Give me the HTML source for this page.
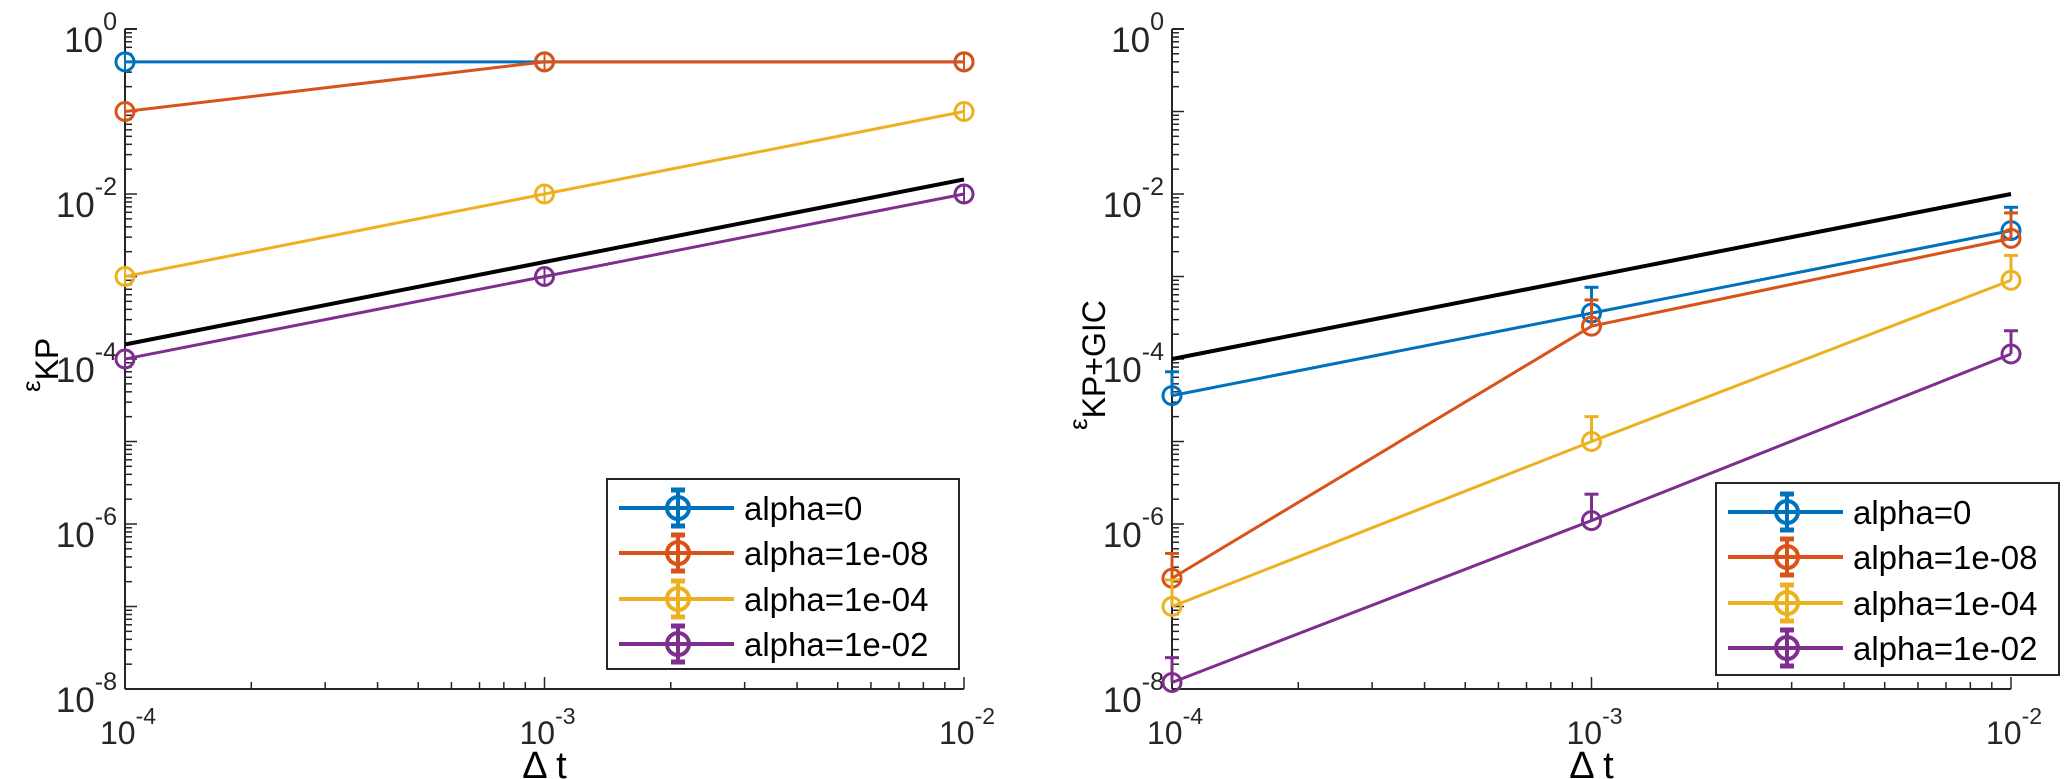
<!DOCTYPE html>
<html><head><meta charset="utf-8">
<style>
html,body{margin:0;padding:0;background:#fff;}
svg{display:block;font-family:"Liberation Sans",Arial,sans-serif;}
</style></head>
<body>
<svg id="fig" width="2067" height="779" viewBox="0 0 2067 779" xmlns="http://www.w3.org/2000/svg"></svg>
<script>
const xValues = [1e-4, 1e-3, 1e-2];
const seriesNames = ["alpha=0","alpha=1e-08","alpha=1e-04","alpha=1e-02"];
const colors = ["#0072BD","#D95319","#EDB120","#7E2F8E"];
// left panel (epsilon KP)
const leftBlue = [0.4, 0.4, 0.4];
const leftRed = [0.1, 0.4, 0.4];
const leftYellow = [1e-3, 1e-2, 0.1];
const leftPurple = [1e-4, 1e-3, 1e-2];
const leftRef = [1.5e-4, 1.5e-2];
// right panel (epsilon KP+GIC)
const rightBlue = [3.6e-5, 3.6e-4, 3.6e-3];
const rightRed = [2.2e-7, 2.5e-4, 2.9e-3];
const rightYellow = [1e-7, 1e-5, 9e-4];
const rightPurple = [1.2e-8, 1.1e-6, 1.15e-4];
const rightBlueUp = [7e-5, 7.4e-4, 6.9e-3];
const rightRedUp = [4.4e-7, 5.2e-4, 5.9e-3];
const rightYellowUp = [2.1e-7, 2e-5, 1.8e-3];
const rightPurpleUp = [2.4e-8, 2.3e-6, 2.2e-4];
const rightRef = [1e-4, 1e-2];
const refX = [1e-4, 1e-2];
const yTickExp = [0, -2, -4, -6, -8];
const xTickExp = [-4, -3, -2];

const NS = "http://www.w3.org/2000/svg";
const svg = document.getElementById("fig");
function mk(tag, attrs, parent){
  const e = document.createElementNS(NS, tag);
  for (const k in attrs) e.setAttribute(k, attrs[k]);
  (parent||svg).appendChild(e);
  return e;
}
const Y0 = 29, YB = 689, DEC = (YB - Y0) / 8;
function yScale(v){ return Y0 - Math.log10(v) * DEC; }

function panel(px, pname, ylab, series, ups, ref){
  const X0 = px, XD = 419.5;
  const xScale = v => X0 + (Math.log10(v) + 4) * XD;
  const g = mk("g", {});
  
  
  const ax = mk("g", {stroke:"#262626","stroke-width":2}, g);
  
  
  mk("line", {x1:X0, y1:Y0, x2:X0, y2:YB}, ax);
  mk("line", {x1:X0, y1:YB, x2:xScale(1e-2), y2:YB}, ax);
  for (let d = 0; d < 8; d++) {
    for (let m = 1; m < 10; m++) {
      const v = Math.pow(10, -8 + d) * m;
      const y = yScale(v);
      mk("line", {x1:X0, y1:y, x2:X0 + (m===1?12:7), y2:y, "stroke-width":1.5}, ax);
    }
  }
  mk("line", {x1:X0, y1:Y0, x2:X0+12, y2:Y0}, ax);
  for (let d = 0; d < 2; d++) {
    for (let m = 1; m < 10; m++) {
      const x = xScale(Math.pow(10, -4 + d) * m);
      mk("line", {x1:x, y1:YB, x2:x, y2:YB - (m===1?12:7), "stroke-width":1.5}, ax);
    }
  }
  const xe = xScale(1e-2);
  mk("line", {x1:xe, y1:YB, x2:xe, y2:YB-12, "stroke-width":1.5}, ax);
  yTickExp.forEach(e => {
    const y = yScale(Math.pow(10, e));
    const t = mk("text", {x:X0 - 8, y:y + 23, "text-anchor":"end", "font-size":35, fill:"#262626"}, g);
    
    
    const a = mk("tspan", {}, t); a.textContent = "10";
    const b = mk("tspan", {"font-size":25, dy:-22}, t); b.textContent = String(e);
  });
  xTickExp.forEach(e => {
    const x = xScale(Math.pow(10, e));
    const t = mk("text", {x:x - 25, y:744, "font-size":32, fill:"#262626"}, g);
    
    
    const a = mk("tspan", {}, t); a.textContent = "10";
    const b = mk("tspan", {"font-size":23, dy:-20}, t); b.textContent = String(e);
  });
  const xt = mk("text", {x:xScale(1e-3), y:778, "text-anchor":"middle", "font-size":38, fill:"#000"}, g);
  
  
  xt.textContent = "\u0394 t";
  const yt = mk("text", {transform:`translate(${ylab.x},${ylab.y}) rotate(-90)`, "text-anchor":"start", "font-size":32, fill:"#000"}, g);
  
  
  const e1 = mk("tspan", {"font-size":26, dy:-6}, yt); e1.textContent = "\u03b5";
  const e2 = mk("tspan", {dy:18}, yt); e2.textContent = ylab.sub;
  const rl = mk("line", {x1:xScale(refX[0]), y1:yScale(ref[0]), x2:xScale(refX[1]), y2:yScale(ref[1]), stroke:"#000", "stroke-width":4}, g);
  
  
  series.forEach((vals, i) => {
    const sg = mk("g", {}, g);
    
    
    const pts = vals.map((v, j) => xScale(xValues[j]) + "," + yScale(v)).join(" ");
    mk("polyline", {points:pts, fill:"none", stroke:colors[i], "stroke-width":3}, sg);
    vals.forEach((v, j) => {
      const x = xScale(xValues[j]), y = yScale(v);
      const up = ups ? ups[i][j] : v;
      const yu = yScale(up);
      if (ups) {
        const eb = mk("line", {x1:x, y1:y, x2:x, y2:yu, stroke:colors[i], "stroke-width":3}, sg);
        
        
        mk("line", {x1:x-7, y1:yu, x2:x+7, y2:yu, stroke:colors[i], "stroke-width":3}, sg);
      } else {
        mk("line", {x1:x, y1:y-9, x2:x, y2:y+9, stroke:colors[i], "stroke-width":2}, sg);
      }
      const c = mk("circle", {cx:x, cy:y, r:9, fill:"none", stroke:colors[i], "stroke-width":3}, sg);
      
      
    });
  });
}

function legend(lx, ly, w, h){
  const g = mk("g", {});
  
  
  mk("rect", {x:lx, y:ly, width:w, height:h, fill:"#fff", stroke:"#262626", "stroke-width":2}, g);
  const rows = [29, 74, 120, 165];
  seriesNames.forEach((n, i) => {
    const eg = mk("g", {}, g);
    
    
    const y = ly + rows[i];
    mk("line", {x1:lx+12, y1:y, x2:lx+127, y2:y, stroke:colors[i], "stroke-width":4}, eg);
    const mx = lx + 71;
    mk("line", {x1:mx, y1:y-19, x2:mx, y2:y+19, stroke:colors[i], "stroke-width":4}, eg);
    mk("line", {x1:mx-7, y1:y-18, x2:mx+7, y2:y-18, stroke:colors[i], "stroke-width":5}, eg);
    mk("line", {x1:mx-7, y1:y+18, x2:mx+7, y2:y+18, stroke:colors[i], "stroke-width":5}, eg);
    mk("circle", {cx:mx, cy:y, r:11, fill:"none", stroke:colors[i], "stroke-width":4}, eg);
    const t = mk("text", {x:lx+137, y:y+12, "font-size":33, fill:"#000"}, eg);
    t.textContent = n;
  });
}

panel(125, "left-panel", {x:46, y:392, sub:"KP"},
  [leftBlue, leftRed, leftYellow, leftPurple], null, leftRef);
panel(1172, "right-panel", {x:1093, y:430, sub:"KP+GIC"},
  [rightBlue, rightRed, rightYellow, rightPurple],
  [rightBlueUp, rightRedUp, rightYellowUp, rightPurpleUp], rightRef);
legend(607, 479, 352, 190);
legend(1716, 483, 343, 192);
</script>
</body></html>
